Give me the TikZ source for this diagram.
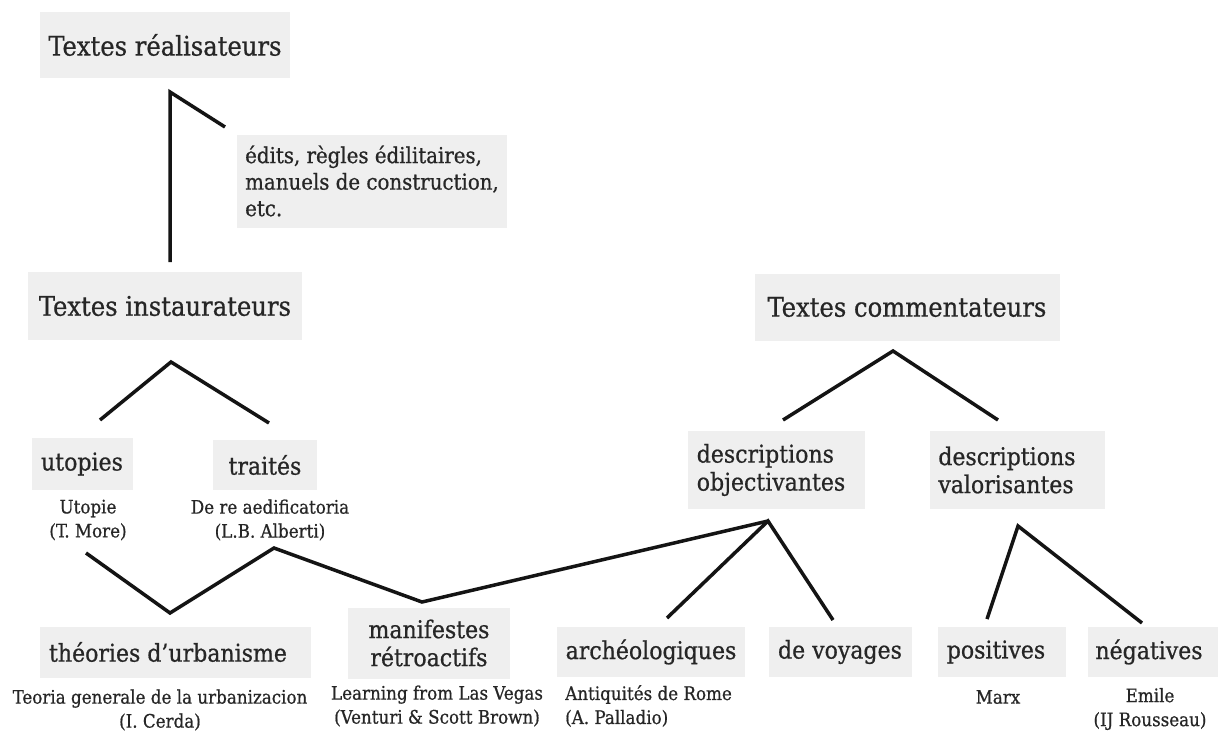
\documentclass[tikz,border=0pt]{standalone}
\usepackage{fontspec}
\setmainfont{DejaVu Serif Condensed}[FakeBold=0.7]
\definecolor{boxgray}{HTML}{EFEFEF}
\definecolor{ink}{HTML}{262626}
\tikzset{
  box/.style n args={2}{fill=boxgray, inner sep=0pt, text=ink, minimum width=#1, minimum height=#2},
  bigtxt/.style={font=\fontsize{27}{32}\selectfont},
  midtxt/.style={font=\fontsize{24.5}{28}\selectfont},
  edtxt/.style={font=\fontsize{22}{26.5}\selectfont, align=left},
  smalltxt/.style={font=\fontsize{18.6}{24}\selectfont, text=ink, align=center, inner sep=0pt},
  link/.style={line width=3.5pt, draw=black!92, line join=miter},
}
\begin{document}
\begin{tikzpicture}[x=1pt,y=-1pt]
\useasboundingbox[fill=white] (0,0) rectangle (1218,731);

% boxes
\node[box={250pt}{66pt}, bigtxt] (real) at (165,45) {Textes réalisateurs};
\node[box={270pt}{93pt}, edtxt] (edits) at (372,181) {édits, règles édilitaires,\\manuels de construction,\\etc.\hspace*{0pt}};
\node[box={274pt}{68pt}, bigtxt] (inst) at (165,306) {Textes instaurateurs};
\node[box={305pt}{67pt}, bigtxt] (comm) at (907,307) {Textes commentateurs};

\node[box={101pt}{52pt}, midtxt] (utop) at (82,464) {utopies};
\node[box={104pt}{50pt}, midtxt] (trait) at (265,465) {traités};
\node[box={177pt}{78pt}, midtxt, align=left] (dobj) at (776,470) {descriptions\\objectivantes\hspace*{10pt}};
\node[box={175pt}{78pt}, midtxt, align=left] (dval) at (1017,470) {descriptions\\valorisantes\hspace*{22pt}};

\node[box={271pt}{51pt}, midtxt] (theo) at (175,652) {théories d’urbanisme\hspace*{14pt}};
\node[box={162pt}{71pt}, midtxt, align=center] (manif) at (429,643) {manifestes\\rétroactifs};
\node[box={188pt}{50pt}, midtxt] (arch) at (651,652) {archéologiques};
\node[box={143pt}{50pt}, midtxt] (voy) at (840,652) {de voyages};
\node[box={128pt}{50pt}, midtxt] (pos) at (1002,652) {positives\hspace*{12pt}};
\node[box={130pt}{50pt}, midtxt] (neg) at (1153,652) {négatives\hspace*{8pt}};

% small texts
\node[smalltxt] (tutop) at (88,520) {Utopie\\(T. More)};
\node[smalltxt] (ttrait) at (270,520) {De re aedificatoria\\(L.B. Alberti)};
\node[smalltxt] (ttheo) at (160,710) {Teoria generale de la urbanizacion\\(I. Cerda)};
\node[smalltxt] (tmanif) at (437,706) {Learning from Las Vegas\\(Venturi \& Scott Brown)};
\node[smalltxt, align=left, anchor=west] (tarch) at (565,706) {Antiquités de Rome\\(A. Palladio)};
\node[smalltxt] (tpos) at (998,697) {Marx};
\node[smalltxt] (tneg) at (1150,709) {Emile\\(IJ Rousseau)};

% connector points
\coordinate (r1) at (170,262);
\coordinate (r2) at (170,92);
\coordinate (r3) at (225,127);
\coordinate (i1) at (100,420);
\coordinate (i2) at (171,362);
\coordinate (i3) at (269,423);
\coordinate (z1) at (86,553);
\coordinate (z2) at (170,613);
\coordinate (z3) at (274,548);
\coordinate (z4) at (422,602);
\coordinate (oa) at (768,521);
\coordinate (a1) at (667,618);
\coordinate (v1) at (833,620);
\coordinate (c1) at (783,420);
\coordinate (c2) at (893,351);
\coordinate (c3) at (998,420);
\coordinate (va) at (1018,526);
\coordinate (p1) at (987,619);
\coordinate (n1) at (1142,623);

% connectors
\draw[link] (r1) -- (r2) -- (r3);
\draw[link] (i1) -- (i2) -- (i3);
\draw[link] (z1) -- (z2) -- (z3) -- (z4) -- (oa);
\draw[link] (a1) -- (oa) -- (v1);
\draw[link] (c1) -- (c2) -- (c3);
\draw[link] (p1) -- (va) -- (n1);
\end{tikzpicture}
\end{document}
